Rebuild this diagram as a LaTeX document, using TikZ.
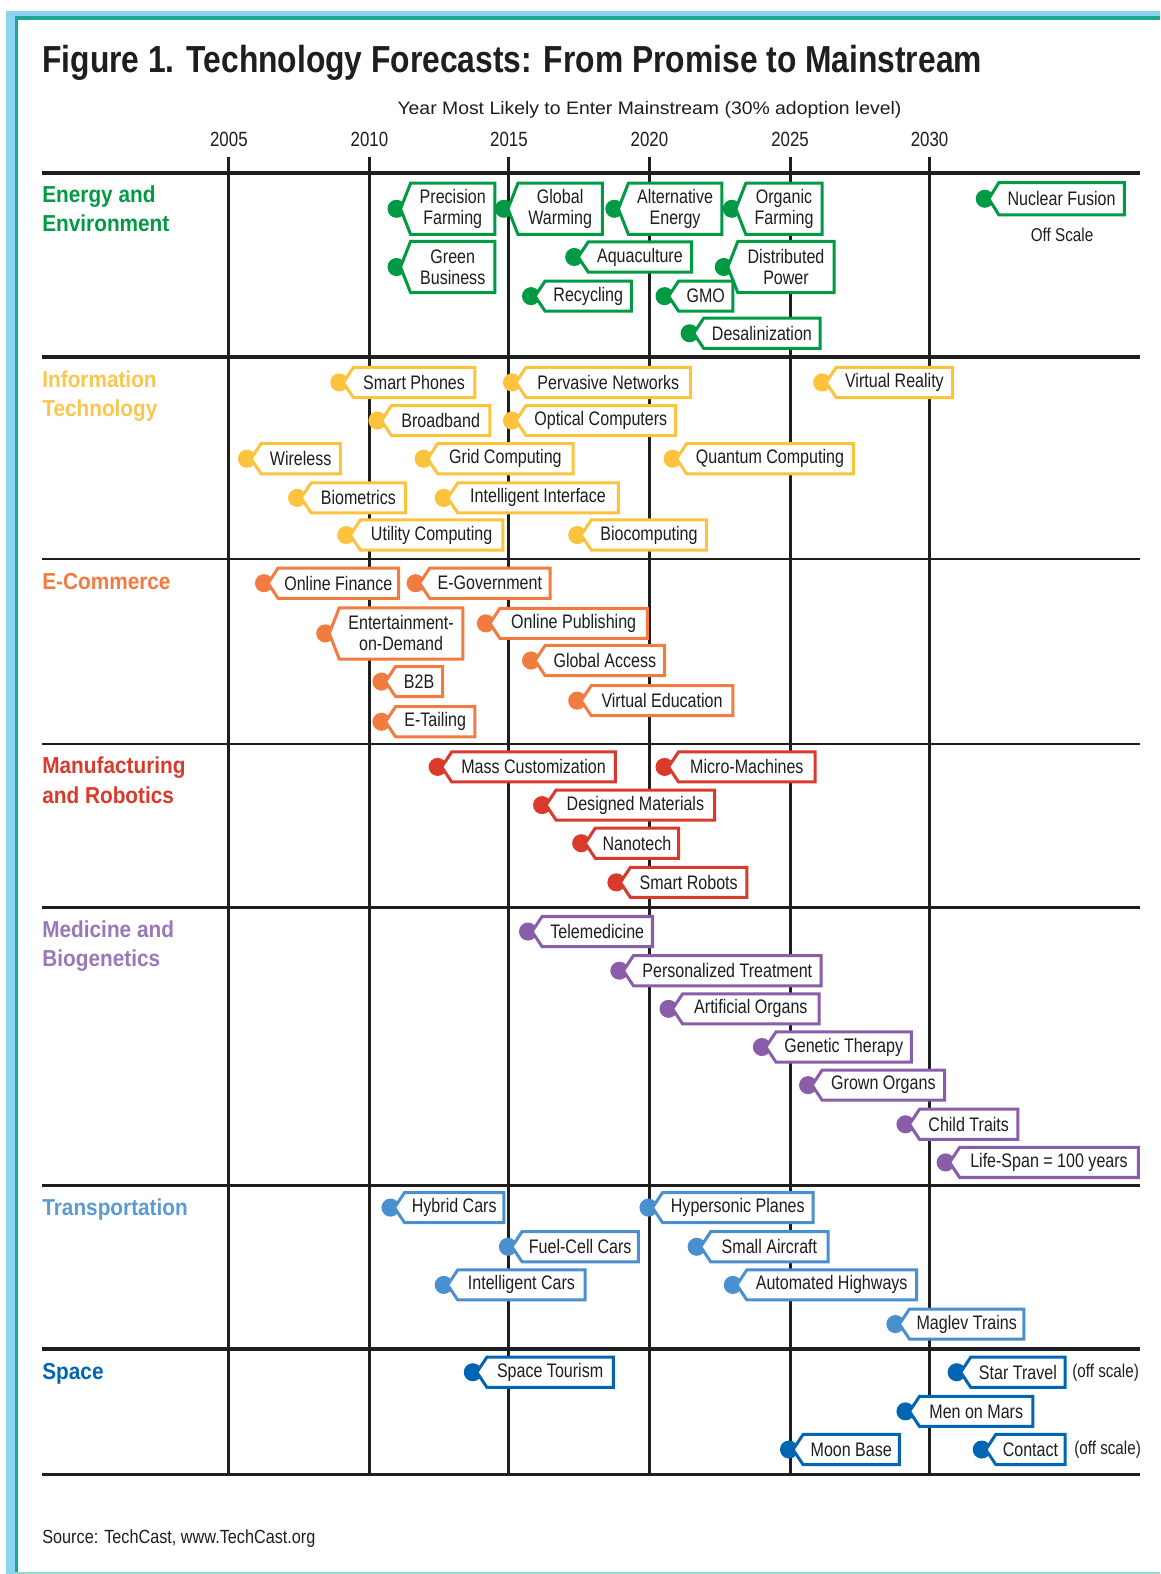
\documentclass[tikz,border=0pt]{standalone}
\usepackage{fontspec}
\usepackage{graphicx}
\setmainfont{Liberation Sans}[FakeStretch=0.82]
\newfontfamily\catfont{Liberation Sans}[FakeStretch=0.9]
\definecolor{cgreen}{HTML}{009A44}
\definecolor{cyellow}{HTML}{FDC33C}
\definecolor{cyellowl}{HTML}{FBC64E}
\definecolor{corange}{HTML}{F27C3F}
\definecolor{cred}{HTML}{D93A2B}
\definecolor{cpurple}{HTML}{8A5DA8}
\definecolor{cpurplel}{HTML}{9A78B8}
\definecolor{ctrans}{HTML}{4A90D0}
\definecolor{ctransl}{HTML}{5B9BD5}
\definecolor{cspace}{HTML}{0066B3}
\definecolor{framelb}{HTML}{8CD3F2}
\definecolor{frameteal}{HTML}{1AAA94}
\definecolor{ink}{HTML}{1E1E1E}
\tikzset{
  tagtxt/.style={inner sep=0pt, align=center, text=ink, font=\fontsize{19.5}{21}\selectfont},
  yearlbl/.style={anchor=base, inner sep=0pt, text=ink, font=\fontsize{20.5}{22}\selectfont},
  catlbl/.style={anchor=base west, inner sep=0pt, align=left, font=\catfont\bfseries\fontsize{23}{29}\selectfont},
  noteltxt/.style={inner sep=0pt, text=ink, font=\fontsize{18.5}{20}\selectfont},
  thickrule/.style={draw=ink, line width=4pt},
  thinrule/.style={draw=ink, line width=2.4pt},
  midrule/.style={draw=ink, line width=3.4pt},
  gridv/.style={draw=ink, line width=3pt}
}
% #1 height, #2 name, #3 colour, #4 blob left x, #5 right x, #6 centre y, #7 text
\newcommand\tg[7][30]{%
  \fill[#3] (#4+9,#6) circle (9pt);
  \filldraw[draw=#3, fill=white, line width=3pt, line join=miter]
    (#5,#6-#1/2) -- (#4+23,#6-#1/2) -- (#4+13,#6) -- (#4+23,#6+#1/2) -- (#5,#6+#1/2) -- cycle;
  \node[tagtxt] (#2) at ({(#4+23+#5)/2},#6) {#7};
}
\begin{document}
\begin{tikzpicture}[x=1pt, y=-1pt]
\useasboundingbox (0,0) rectangle (1156,1568);
\fill[white] (0,0) rectangle (1156,1568);
% frame
\fill[framelb] (6,11) rectangle (1156,16);
\fill[framelb] (6,11) rectangle (15,1568);
\fill[frameteal] (15,15.5) rectangle (1156,20);
\fill[frameteal] (15,15.5) rectangle (17.5,1568);
\fill[frameteal!45] (15,1565.5) rectangle (1156,1568);

% title
\node[anchor=base west, inner sep=0pt, text=ink] (title) at (42,72)
  {\resizebox{936pt}{\height}{\fontsize{37.5}{40}\selectfont\bfseries Figure 1. Technology Forecasts: From Promise to Mainstream}};
\node[anchor=base, inner sep=0pt, text=ink] (subtitle) at (647,114)
  {\resizebox{502pt}{\height}{\fontsize{18}{20}\selectfont Year Most Likely to Enter Mainstream (30\% adoption level)}};

% years
\foreach \yr/\xx in {2005/228,2010/368,2015/507,2020/647,2025/787,2030/926}{
  \node[yearlbl] (y\yr) at (\xx,146) {\yr};
  \draw[gridv] (\xx,156) -- (\xx,1469);
}
% horizontal rules
\draw[thickrule] (42,172) -- (1136,172);
\draw[thickrule] (42,356) -- (1136,356);
\draw[thinrule] (42,557) -- (1136,557);
\draw[thinrule] (42,741) -- (1136,741);
\draw[thinrule] (42,904) -- (1136,904);
\draw[midrule] (42,1181) -- (1136,1181);
\draw[midrule] (42,1344) -- (1136,1344);
\draw[thinrule] (42,1469) -- (1136,1469);

% categories (base anchor = last line)
\node[catlbl, text=cgreen] (catE) at (42,231) {Energy and\\Environment};
\node[catlbl, text=cyellowl] (catI) at (42,415) {Information\\Technology};
\node[catlbl, text=corange] (catC) at (42,587) {E-Commerce};
\node[catlbl, text=cred] (catM) at (42,800) {Manufacturing\\and Robotics};
\node[catlbl, text=cpurplel] (catB) at (42,963) {Medicine and\\Biogenetics};
\node[catlbl, text=ctransl] (catT) at (42,1211) {Transportation};
\node[catlbl, text=cspace] (catS) at (42,1374) {Space};

% Energy and Environment
\tg[51]{pf}{cgreen}{386}{493}{208}{Precision\\Farming}
\tg[51]{gw}{cgreen}{493}{600}{208}{Global\\Warming}
\tg[51]{ae}{cgreen}{603}{719}{208}{Alternative\\Energy}
\tg[51]{of}{cgreen}{720}{819}{208}{Organic\\Farming}
\tg[51]{gb}{cgreen}{386}{493}{266}{Green\\Business}
\tg{aq}{cgreen}{563}{689}{256}{Aquaculture}
\tg[51]{dp}{cgreen}{712}{831}{266}{Distributed\\Power}
\tg{rc}{cgreen}{520}{629}{295}{Recycling}
\tg{gmo}{cgreen}{653}{730}{295}{GMO}
\tg{ds}{cgreen}{678}{817}{332}{Desalinization}
\tg[32]{nf}{cgreen}{972}{1120}{198}{Nuclear Fusion}
\node[noteltxt] (offscale1) at (1058,234) {Off Scale};

% Information Technology
\tg{sp}{cyellow}{329}{473}{381}{Smart Phones}
\tg{pn}{cyellow}{501}{688}{381}{Pervasive Networks}
\tg{vr}{cyellow}{810}{949}{381}{Virtual Reality}
\tg{bb}{cyellow}{367}{488}{419}{Broadband}
\tg{oc}{cyellow}{501}{673}{419}{Optical Computers}
\tg{wl}{cyellow}{237}{339}{457}{Wireless}
\tg{gc}{cyellow}{413}{571}{457}{Grid Computing}
\tg{qc}{cyellow}{661}{850}{457}{Quantum Computing}
\tg{bm}{cyellow}{287}{404}{496}{Biometrics}
\tg{ii}{cyellow}{433}{616}{496}{Intelligent Interface}
\tg{uc}{cyellow}{336}{501}{533}{Utility Computing}
\tg{bc}{cyellow}{566}{704}{533}{Biocomputing}

% E-Commerce
\tg{ofin}{corange}{254}{397}{581}{Online Finance}
\tg{eg}{corange}{405}{548}{581}{E-Government}
\tg[51]{eod}{corange}{315}{461}{631}{Entertainment-\\on-Demand}
\tg{op}{corange}{475}{645}{621}{Online Publishing}
\tg{ga}{corange}{520}{662}{658}{Global Access}
\tg{btb}{corange}{371}{441}{679}{B2B}
\tg{ve}{corange}{566}{730}{698}{Virtual Education}
\tg{et}{corange}{371}{473}{719}{E-Tailing}

% Manufacturing and Robotics
\tg{mc}{cred}{427}{613}{764}{Mass Customization}
\tg{mm}{cred}{653}{812}{764}{Micro-Machines}
\tg{dm}{cred}{531}{712}{802}{Designed Materials}
\tg{nt}{cred}{570}{676}{840}{Nanotech}
\tg{sr}{cred}{605}{744}{879}{Smart Robots}

% Medicine and Biogenetics
\tg{tm}{cpurple}{517}{650}{928}{Telemedicine}
\tg{pt}{cpurple}{608}{818}{967}{Personalized Treatment}
\tg{ao}{cpurple}{657}{816}{1005}{Artificial Organs}
\tg{gt}{cpurple}{750}{908}{1043}{Genetic Therapy}
\tg{go}{cpurple}{796}{941}{1081}{Grown Organs}
\tg{ct}{cpurple}{893}{1014}{1120}{Child Traits}
\tg{ls}{cpurple}{933}{1134}{1158}{Life-Span = 100 years}

% Transportation
\tg{hc}{ctrans}{380}{502}{1203}{Hybrid Cars}
\tg{hp}{ctrans}{637}{810}{1203}{Hypersonic Planes}
\tg{fc}{ctrans}{497}{636}{1242}{Fuel-Cell Cars}
\tg{sa}{ctrans}{685}{825}{1242}{Small Aircraft}
\tg{ic}{ctrans}{433}{583}{1280}{Intelligent Cars}
\tg{ah}{ctrans}{721}{913}{1280}{Automated Highways}
\tg{mt}{ctrans}{883}{1020}{1319}{Maglev Trains}

% Space
\tg{stour}{cspace}{462}{611}{1367}{Space Tourism}
\tg{strav}{cspace}{944}{1061}{1367}{Star Travel}
\node[noteltxt, anchor=west] (offscale2) at (1068,1367) {(off scale)};
\tg{mom}{cspace}{893}{1029}{1406}{Men on Mars}
\tg{mb}{cspace}{777}{896}{1444}{Moon Base}
\tg{co}{cspace}{969}{1061}{1444}{Contact}
\node[noteltxt, anchor=west] (offscale3) at (1070,1444) {(off scale)};

% source
\node[anchor=base west, inner sep=0pt, text=ink] (src) at (42,1538)
  {\resizebox{272pt}{\height}{\fontsize{19}{20}\selectfont Source: TechCast, www.TechCast.org}};
\end{tikzpicture}
\end{document}
